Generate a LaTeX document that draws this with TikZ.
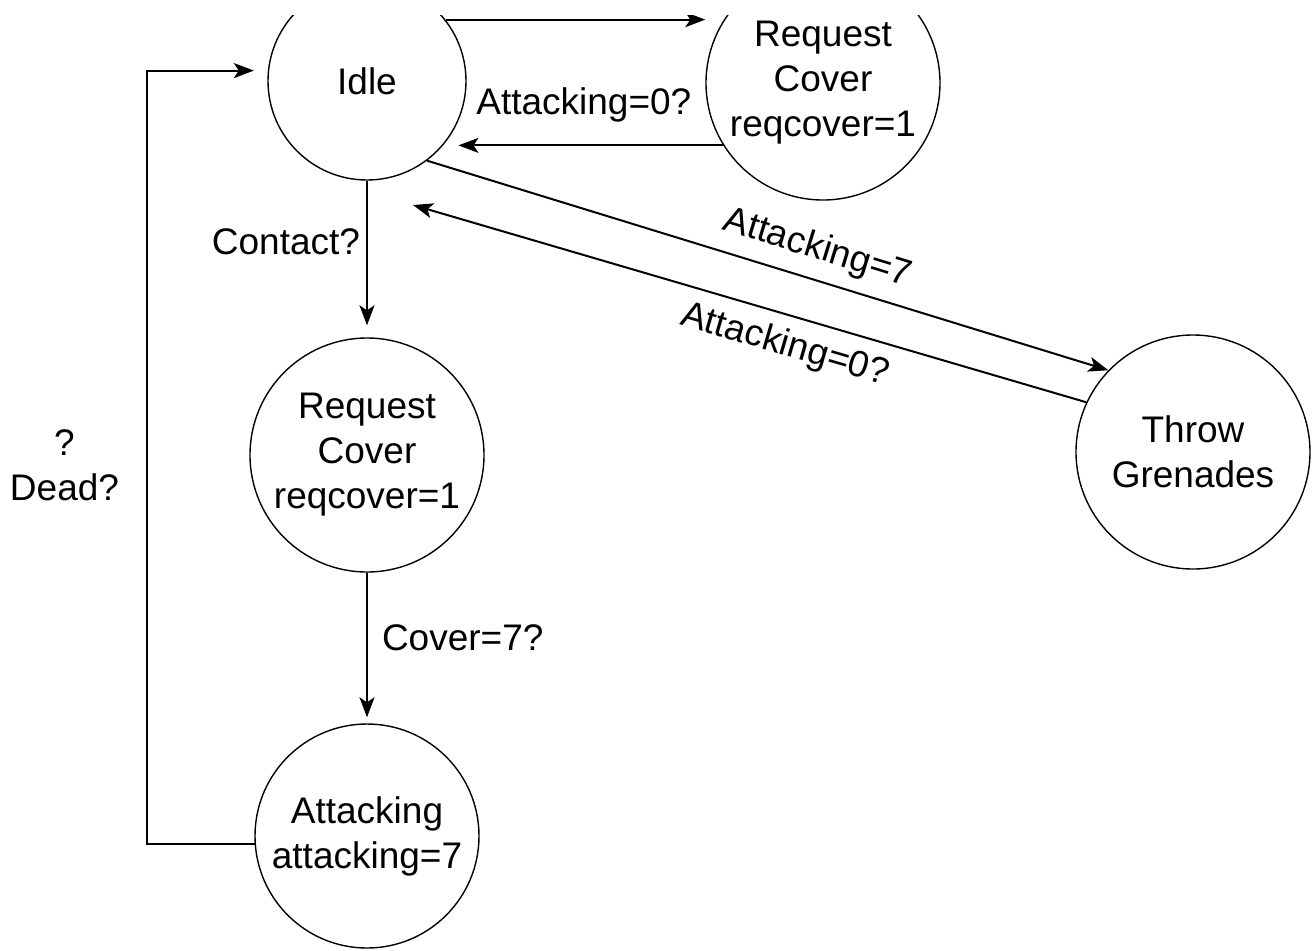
\documentclass[tikz,border=0pt]{standalone}
\usepackage{fontspec}
\setmainfont{Liberation Sans}
\usetikzlibrary{arrows.meta}

\begin{document}
\begin{tikzpicture}[x=0.5pt,y=-0.5pt,>={Stealth[length=10pt,width=7.5pt,inset=2.5pt]},
  every node/.style={font=\fontsize{18.5}{22.5}\selectfont},
  statecirc/.style={draw,circle,line width=0.7pt,inner sep=0pt,align=center},
  link/.style={->,line width=1pt},
  lbl/.style={inner sep=2pt}]
  \useasboundingbox (0,0) rectangle (1313,950);
  % the sheet is cut off just above the top states
  \clip (0,15) rectangle (1313,950);

  % The states.
  \node[statecirc,minimum size=99pt] (idle) at (367,81) {Idle};
  \node[statecirc,minimum size=117pt] (reqtop) at (823,83) {Request\\Cover\\reqcover=1};
  \node[statecirc,minimum size=117pt] (reqmid) at (367,455) {Request\\Cover\\reqcover=1};
  \node[statecirc,minimum size=117pt] (grenade) at (1193,452) {Throw\\Grenades};
  \node[statecirc,minimum size=112pt] (attack) at (367,836) {Attacking\\attacking=7};

  \coordinate (back) at (413,205);
  \coordinate (loop) at (147,0);

  % Idle and the upper Request Cover.
  \draw[link] (idle.38) -- (idle.38 -| reqtop.west);
  \draw[link,shorten >=7pt] (reqtop.212) -- (reqtop.212 -| idle.-39)
    node[lbl,midway,above=9pt] {Attacking=0?};

  % Idle and Throw Grenades, two parallel lines.
  \draw[link] (idle.-53) -- (grenade.136)
    node[lbl,pos=0.56,sloped,above=4pt] {Attacking=7};
  \draw[link,<-] (back) -- (grenade.155)
    node[lbl,pos=0.565,sloped,below=4pt] {Attacking=0?};

  % The main chain down the left.
  \draw[link,shorten >=6pt] (idle) -- (reqmid)
    node[lbl,pos=0.39,left=1pt] {Contact?};
  \draw[link,shorten >=3pt] (reqmid) -- (attack)
    node[lbl,pos=0.43,right=5pt] {Cover=7?};

  % Back to Idle when dead.
  \draw[link,shorten >=7pt] (attack.184) -- (attack.184 -| loop)
    -- (idle.174 -| loop) node[lbl,pos=0.49,left=11.5pt,align=center] {?\\Dead?}
    -- (idle.174);
\end{tikzpicture}
\end{document}
